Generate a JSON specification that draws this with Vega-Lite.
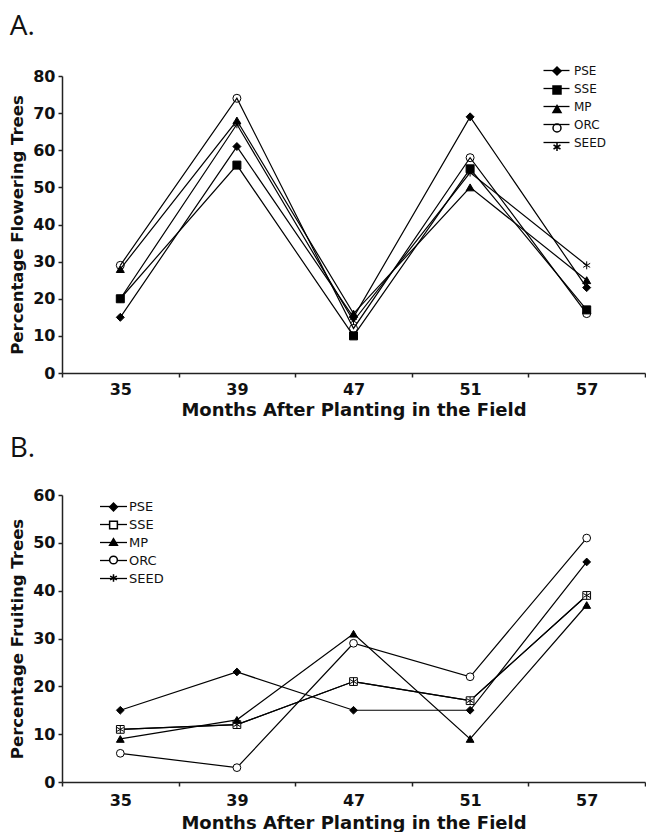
{
  "$schema": "https://vega.github.io/schema/vega-lite/v6.json",
  "padding": {"left": 9, "top": 13, "right": 0, "bottom": 0},
  "background": "white",
  "datasets": {
    "flower": [
      {"month": 35, "series": "PSE", "grp": "PSE", "value": 15},
      {"month": 39, "series": "PSE", "grp": "PSE", "value": 61},
      {"month": 47, "series": "PSE", "grp": "PSE", "value": 15},
      {"month": 51, "series": "PSE", "grp": "PSE", "value": 69},
      {"month": 57, "series": "PSE", "grp": "PSE", "value": 23},
      {"month": 35, "series": "SSE", "grp": "SSE", "value": 20},
      {"month": 39, "series": "SSE", "grp": "SSE", "value": 56},
      {"month": 47, "series": "SSE", "grp": "SSE", "value": 10},
      {"month": 51, "series": "SSE", "grp": "SSE", "value": 55},
      {"month": 57, "series": "SSE", "grp": "SSE", "value": 17},
      {"month": 35, "series": "MP", "grp": "MP", "value": 28},
      {"month": 39, "series": "MP", "grp": "MP", "value": 68},
      {"month": 47, "series": "MP", "grp": "MP", "value": 16},
      {"month": 51, "series": "MP", "grp": "MP", "value": 50},
      {"month": 57, "series": "MP", "grp": "MP", "value": 25},
      {"month": 35, "series": "ORC", "grp": "ORC", "value": 29},
      {"month": 39, "series": "ORC", "grp": "ORC", "value": 74},
      {"month": 47, "series": "ORC", "grp": "ORC", "value": 12},
      {"month": 51, "series": "ORC", "grp": "ORC", "value": 58},
      {"month": 57, "series": "ORC", "grp": "ORC", "value": 16},
      {"month": 35, "series": "SEED", "grp": "SEED", "value": 20},
      {"month": 39, "series": "SEED", "grp": "SEED", "value": 67},
      {"month": 47, "series": "SEED", "grp": "SEED", "value": 14},
      {"month": 51, "series": "SEED", "grp": "SEED", "value": 54},
      {"month": 57, "series": "SEED", "grp": "SEED", "value": 29}
    ],
    "fruit": [
      {"month": 35, "series": "PSE", "grp": "PSE", "value": 15},
      {"month": 39, "series": "PSE", "grp": "PSE", "value": 23},
      {"month": 47, "series": "PSE", "grp": "PSE", "value": 15},
      {"month": 51, "series": "PSE", "grp": "PSE", "value": 15},
      {"month": 57, "series": "PSE", "grp": "PSE", "value": 46},
      {"month": 35, "series": "SSE", "grp": "SSE", "value": 11},
      {"month": 39, "series": "SSE", "grp": "SSE", "value": 12},
      {"month": 47, "series": "SSE", "grp": "SSE", "value": 21},
      {"month": 51, "series": "SSE", "grp": "SSE", "value": 17},
      {"month": 57, "series": "SSE", "grp": "SSE", "value": 39},
      {"month": 35, "series": "MP", "grp": "MP", "value": 9},
      {"month": 39, "series": "MP", "grp": "MP", "value": 13},
      {"month": 47, "series": "MP", "grp": "MP", "value": 31},
      {"month": 51, "series": "MP", "grp": "MP", "value": 9},
      {"month": 57, "series": "MP", "grp": "MP", "value": 37},
      {"month": 35, "series": "ORC", "grp": "ORC", "value": 6},
      {"month": 39, "series": "ORC", "grp": "ORC", "value": 3},
      {"month": 47, "series": "ORC", "grp": "ORC", "value": 29},
      {"month": 51, "series": "ORC", "grp": "ORC", "value": 22},
      {"month": 57, "series": "ORC", "grp": "ORC", "value": 51},
      {"month": 35, "series": "SEED", "grp": "SEED", "value": 11},
      {"month": 39, "series": "SEED", "grp": "SEED", "value": 12},
      {"month": 47, "series": "SEED", "grp": "SEED", "value": 21},
      {"month": 51, "series": "SEED", "grp": "SEED", "value": 17},
      {"month": 57, "series": "SEED", "grp": "SEED", "value": 39}
    ]
  },
  "config": {
    "view": {"stroke": null},
    "font": "DejaVu Sans",
    "axis": {
      "grid": false,
      "domainColor": "#222",
      "tickColor": "#222",
      "domainWidth": 1.5,
      "tickWidth": 1.5,
      "tickSize": 4,
      "labelColor": "#111",
      "titleColor": "#111",
      "labelFont": "DejaVu Sans",
      "labelFontWeight": "bold",
      "labelFontSize": 16,
      "titleFont": "DejaVu Sans",
      "titleFontWeight": "bold",
      "titleFontSize": 18
    },
    "title": {"font": "Open Sans", "fontSize": 28, "fontWeight": "normal", "anchor": "start", "frame": "bounds", "color": "#111"},
    "legend": {"padding": 0, "labelFont": "DejaVu Sans", "labelColor": "#111", "title": null}
  },
  "resolve": {
    "scale": {"color": "independent", "shape": "independent", "fill": "independent"},
    "legend": {"color": "independent", "shape": "independent", "fill": "independent"}
  },
  "spacing": 15,
  "vconcat": [
    {
      "title": {"text": "A.", "offset": 22},
      "width": 583,
      "height": 297,
      "data": {"name": "flower"},
      "encoding": {
        "x": {
          "field": "month", "type": "ordinal",
          "scale": {"paddingInner": 0, "paddingOuter": 0},
          "axis": {"title": "Months After Planting in the Field", "labelAngle": 0, "tickBand": "extent", "labelPadding": 4, "titlePadding": 4}
        },
        "y": {
          "field": "value", "type": "quantitative",
          "scale": {"domain": [0, 80], "nice": false},
          "axis": {"title": "Percentage Flowering Trees", "titleFontSize": 16.5, "values": [0, 10, 20, 30, 40, 50, 60, 70, 80], "labelPadding": 3, "titlePadding": 7}
        }
      },
      "layer": [
        {
          "mark": {"type": "line", "strokeWidth": 1.2},
          "encoding": {
            "color": {
              "field": "grp", "type": "nominal",
              "sort": ["PSE", "SSE", "MP", "ORC", "SEED"],
              "scale": {"range": ["#000", "#000", "#000", "#000", "#000"]},
              "legend": {"orient": "none", "legendX": 487, "legendY": -13, "symbolType": "M-2,0L2,0", "symbolSize": 169, "symbolStrokeWidth": 1.3, "labelFontSize": 12, "labelOffset": 10, "rowPadding": 4}
            }
          }
        },
        {
          "mark": {"type": "point", "filled": true, "stroke": "#000", "strokeWidth": 1, "size": 64, "opacity": 1},
          "encoding": {
            "shape": {
              "field": "series", "type": "nominal",
              "scale": {"domain": ["PSE", "SSE", "MP", "ORC", "SEED"], "range": ["diamond", "square", "triangle-up", "circle", "M0,-1L0,1M-0.87,-0.5L0.87,0.5M-0.87,0.5L0.87,-0.5"]},
              "legend": {"orient": "none", "legendX": 489, "legendY": -11, "labelFontSize": 12, "labelOpacity": 0, "rowPadding": 5, "symbolSize": 64,
                "encode": {"symbols": {"update": {"stroke": {"value": "#000"}, "strokeWidth": {"value": 1}}}}}
            },
            "fill": {
              "field": "series", "type": "nominal",
              "scale": {"domain": ["PSE", "SSE", "MP", "ORC", "SEED"], "range": ["#000", "#000", "#000", "transparent", "transparent"]},
              "legend": {"orient": "none", "legendX": 489, "legendY": -11, "labelFontSize": 12, "labelOpacity": 0, "rowPadding": 5, "symbolSize": 64,
                "encode": {"symbols": {"update": {"stroke": {"value": "#000"}, "strokeWidth": {"value": 1}}}}}
            }
          }
        }
      ]
    },
    {
      "title": {"text": "B.", "offset": 24.5},
      "width": 583,
      "height": 287,
      "data": {"name": "fruit"},
      "encoding": {
        "x": {
          "field": "month", "type": "ordinal",
          "scale": {"paddingInner": 0, "paddingOuter": 0},
          "axis": {"title": "Months After Planting in the Field", "labelAngle": 0, "tickBand": "extent", "labelPadding": 6, "titlePadding": 6}
        },
        "y": {
          "field": "value", "type": "quantitative",
          "scale": {"domain": [0, 60], "nice": false},
          "axis": {"title": "Percentage Fruiting Trees", "titleFontSize": 16.5, "values": [0, 10, 20, 30, 40, 50, 60], "labelPadding": 3, "titlePadding": 7}
        }
      },
      "layer": [
        {
          "mark": {"type": "line", "strokeWidth": 1.2},
          "encoding": {
            "color": {
              "field": "grp", "type": "nominal",
              "sort": ["PSE", "SSE", "MP", "ORC", "SEED"],
              "scale": {"range": ["#000", "#000", "#000", "#000", "#000"]},
              "legend": {"orient": "none", "legendX": 44, "legendY": 4, "symbolType": "M-2,0L2,0", "symbolSize": 182, "symbolStrokeWidth": 1.3, "labelFontSize": 13, "labelOffset": 8, "rowPadding": 3}
            }
          }
        },
        {
          "mark": {"type": "point", "filled": true, "stroke": "#000", "strokeWidth": 1, "size": 60, "opacity": 1},
          "encoding": {
            "shape": {
              "field": "series", "type": "nominal",
              "scale": {"domain": ["PSE", "SSE", "MP", "ORC", "SEED"], "range": ["diamond", "square", "triangle-up", "circle", "M0,-1L0,1M-0.87,-0.5L0.87,0.5M-0.87,0.5L0.87,-0.5"]},
              "legend": {"orient": "none", "legendX": 45, "legendY": 5.5, "labelFontSize": 13, "labelOpacity": 0, "rowPadding": 3, "symbolSize": 60,
                "encode": {"symbols": {"update": {"stroke": {"value": "#000"}, "strokeWidth": {"value": 1}}}}}
            },
            "fill": {
              "field": "series", "type": "nominal",
              "scale": {"domain": ["PSE", "SSE", "MP", "ORC", "SEED"], "range": ["#000", "#fff", "#000", "#fff", "transparent"]},
              "legend": {"orient": "none", "legendX": 45, "legendY": 5.5, "labelFontSize": 13, "labelOpacity": 0, "rowPadding": 3, "symbolSize": 60,
                "encode": {"symbols": {"update": {"stroke": {"value": "#000"}, "strokeWidth": {"value": 1}}}}}
            }
          }
        }
      ]
    }
  ]
}
